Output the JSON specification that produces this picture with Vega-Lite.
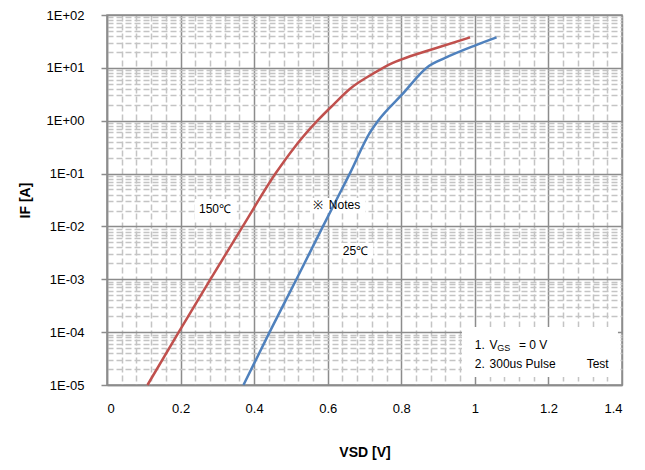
{
  "$schema": "https://vega.github.io/schema/vega-lite/v6.json",
  "width": 515,
  "height": 370,
  "autosize": {"type": "none"},
  "padding": {"left": 107, "top": 15, "right": 23, "bottom": 85},
  "background": "white",
  "config": {
    "view": {"stroke": "#8c8c8c", "strokeWidth": 1.5},
    "font": "Liberation Sans"
  },
  "datasets": {
    "curves": [
      {"s": "150℃", "x": 0.11, "y": 1e-5},
      {"s": "150℃", "x": 0.195, "y": 1e-4},
      {"s": "150℃", "x": 0.281, "y": 1e-3},
      {"s": "150℃", "x": 0.369, "y": 1e-2},
      {"s": "150℃", "x": 0.458, "y": 0.1},
      {"s": "150℃", "x": 0.51, "y": 0.316},
      {"s": "150℃", "x": 0.572, "y": 1.0},
      {"s": "150℃", "x": 0.615, "y": 2.0},
      {"s": "150℃", "x": 0.66, "y": 3.98},
      {"s": "150℃", "x": 0.725, "y": 7.9},
      {"s": "150℃", "x": 0.774, "y": 12.2},
      {"s": "150℃", "x": 0.801, "y": 14.5},
      {"s": "150℃", "x": 0.878, "y": 21.8},
      {"s": "150℃", "x": 0.987, "y": 37.8},
      {"s": "25℃", "x": 0.371, "y": 1e-5},
      {"s": "25℃", "x": 0.442, "y": 1e-4},
      {"s": "25℃", "x": 0.515, "y": 1e-3},
      {"s": "25℃", "x": 0.587, "y": 1e-2},
      {"s": "25℃", "x": 0.66, "y": 0.1},
      {"s": "25℃", "x": 0.715, "y": 0.6},
      {"s": "25℃", "x": 0.737, "y": 1.0},
      {"s": "25℃", "x": 0.801, "y": 3.07},
      {"s": "25℃", "x": 0.875, "y": 10.8},
      {"s": "25℃", "x": 0.915, "y": 15.0},
      {"s": "25℃", "x": 1.003, "y": 27},
      {"s": "25℃", "x": 1.059, "y": 37.8}
    ],
    "boxes": [
      {"x": 0.239, "xe": 0.353, "y": 0.033, "ye": 0.0127},
      {"x": 0.552, "xe": 0.702, "y": 0.0345, "ye": 0.0179},
      {"x": 0.633, "xe": 0.723, "y": 0.00486, "ye": 0.00253},
      {"x": 0.965, "xe": 1.389, "y": 1.25e-4, "ye": 1.42e-5}
    ],
    "labels": [
      {"t": "150℃", "x": 0.25, "y": 0.0214},
      {"t": "※", "x": 0.559, "y": 0.0255},
      {"t": "Notes", "x": 0.603, "y": 0.0255},
      {"t": "25℃", "x": 0.641, "y": 0.00348},
      {"t": "1.", "x": 1.0, "y": 5.71e-5},
      {"t": "V", "x": 1.04, "y": 5.71e-5},
      {"t": "= 0 V", "x": 1.12, "y": 5.71e-5},
      {"t": "2.", "x": 1.0, "y": 2.49e-5},
      {"t": "300us Pulse", "x": 1.04, "y": 2.49e-5},
      {"t": "Test", "x": 1.304, "y": 2.49e-5}
    ],
    "subs": [
      {"t": "GS", "x": 1.061, "y": 5.0e-5}
    ]
  },
  "encoding": {
    "x": {
      "field": "x",
      "type": "quantitative",
      "title": "VSD [V]",
      "scale": {"domain": [0, 1.4], "nice": false, "zero": false},
      "axis": {
        "values": [0,0.04,0.08,0.12,0.16,0.2,0.24,0.28,0.32,0.36,0.4,0.44,0.48,0.52,0.56,0.6,0.64,0.68,0.72,0.76,0.8,0.84,0.88,0.92,0.96,1,1.04,1.08,1.12,1.16,1.2,1.24,1.28,1.32,1.36,1.4],
        "labelExpr": "abs(datum.value*5 - round(datum.value*5)) < 0.01 ? format(datum.value, '~g') : ''",
        "labelOverlap": false,
        "labelFont": "Liberation Sans",
        "labelFontSize": 13,
        "labelColor": "#000000",
        "labelPadding": 17,
        "ticks": false,
        "domainColor": "#8c8c8c",
        "domainWidth": 1.5,
        "grid": true,
        "gridColor": {"condition": {"test": "abs(datum.value*5 - round(datum.value*5)) < 0.01", "value": "#8c8c8c"}, "value": "#c4c4c4"},
        "gridDash": {"condition": {"test": "abs(datum.value*5 - round(datum.value*5)) < 0.01", "value": []}, "value": [6, 3]},
        "gridWidth": 1.5,
        "titleFont": "Liberation Sans",
        "titleFontSize": 14,
        "titleFontWeight": "bold",
        "titleColor": "#000000",
        "titlePadding": 30
      }
    },
    "y": {
      "field": "y",
      "type": "quantitative",
      "title": "IF [A]",
      "scale": {"type": "log", "domain": [1e-5, 100], "nice": false},
      "axis": {
        "values": [1e-5,2e-5,3e-5,4e-5,5e-5,6e-5,7e-5,8e-5,9e-5,1e-4,2e-4,3e-4,4e-4,5e-4,6e-4,7e-4,8e-4,9e-4,1e-3,2e-3,3e-3,4e-3,5e-3,6e-3,7e-3,8e-3,9e-3,1e-2,2e-2,3e-2,4e-2,5e-2,6e-2,7e-2,8e-2,9e-2,0.1,0.2,0.3,0.4,0.5,0.6,0.7,0.8,0.9,1,2,3,4,5,6,7,8,9,10,20,30,40,50,60,70,80,90,100],
        "labelExpr": "abs(log(datum.value)/LN10 - round(log(datum.value)/LN10)) < 0.001 ? '1E' + (round(log(datum.value)/LN10) >= 0 ? '+' : '-') + '0' + abs(round(log(datum.value)/LN10)) : ''",
        "labelOverlap": false,
        "labelFont": "Liberation Sans",
        "labelFontSize": 13,
        "labelColor": "#000000",
        "labelPadding": 17,
        "ticks": true,
        "tickSize": 6,
        "tickColor": "#8c8c8c",
        "tickWidth": 1.5,
        "tickOpacity": {"condition": {"test": "abs(log(datum.value)/LN10 - round(log(datum.value)/LN10)) < 0.001", "value": 1}, "value": 0},
        "domainColor": "#8c8c8c",
        "domainWidth": 1.5,
        "grid": true,
        "gridColor": {"condition": {"test": "abs(log(datum.value)/LN10 - round(log(datum.value)/LN10)) < 0.001", "value": "#8c8c8c"}, "value": "#c4c4c4"},
        "gridDash": {"condition": {"test": "abs(log(datum.value)/LN10 - round(log(datum.value)/LN10)) < 0.001", "value": []}, "value": [6, 3]},
        "gridWidth": 1.5,
        "titleFont": "Liberation Sans",
        "titleFontSize": 14,
        "titleFontWeight": "bold",
        "titleColor": "#000000",
        "titlePadding": 14
      }
    }
  },
  "layer": [
    {
      "data": {"name": "boxes"},
      "mark": {"type": "rect", "fill": "white", "stroke": null},
      "encoding": {
        "x2": {"field": "xe"},
        "y2": {"field": "ye"}
      }
    },
    {
      "data": {"name": "curves"},
      "mark": {"type": "line", "strokeWidth": 2.5, "interpolate": "monotone"},
      "encoding": {
        "color": {
          "field": "s",
          "type": "nominal",
          "scale": {"domain": ["150℃", "25℃"], "range": ["#C0504D", "#4F81BD"]},
          "legend": null
        },
        "detail": {"field": "s"}
      }
    },
    {
      "data": {"name": "labels"},
      "mark": {"type": "text", "align": "left", "baseline": "middle", "font": "Liberation Sans", "fontSize": 12, "color": "#000000"},
      "encoding": {"text": {"field": "t"}}
    },
    {
      "data": {"name": "subs"},
      "mark": {"type": "text", "align": "left", "baseline": "middle", "font": "Liberation Sans", "fontSize": 9, "color": "#000000"},
      "encoding": {"text": {"field": "t"}}
    }
  ]
}
